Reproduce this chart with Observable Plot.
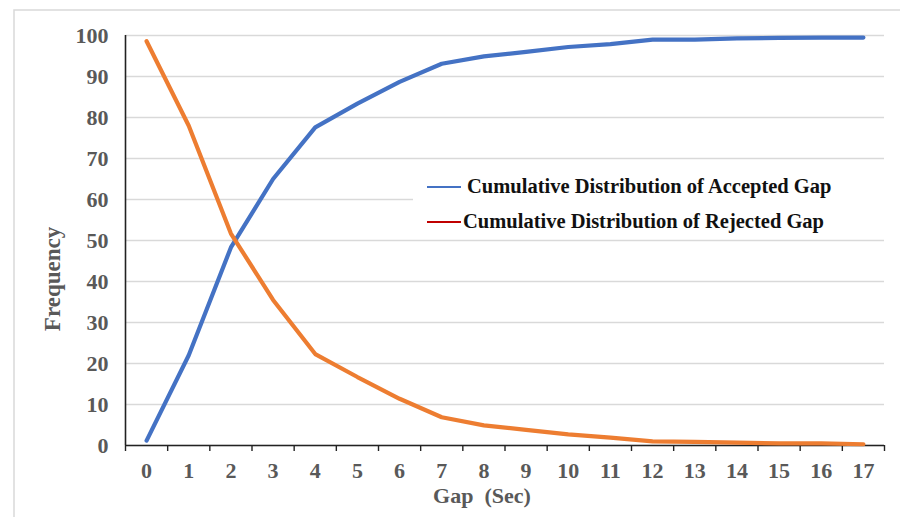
<!DOCTYPE html>
<html>
<head>
<meta charset="utf-8">
<script src="https://cdn.jsdelivr.net/npm/d3@7"></script>
<script src="https://cdn.jsdelivr.net/npm/@observablehq/plot@0.6"></script>
<style>
  html, body { margin: 0; padding: 0; background: #fff; }
  #chart svg { display: block; }
</style>
</head>
<body>
<div id="chart"></div>
<script>
// Gap sizes in seconds (x categories)
const gaps = [0, 1, 2, 3, 4, 5, 6, 7, 8, 9, 10, 11, 12, 13, 14, 15, 16, 17];
// Cumulative distribution (%) of accepted gaps
const accepted = [1.2, 22, 48.3, 65, 77.6, 83.4, 88.7, 93.1, 94.9, 96, 97.2, 97.9, 99, 99, 99.3, 99.4, 99.5, 99.5];
// Cumulative distribution (%) of rejected gaps
const rejected = [98.6, 78, 51.7, 35.5, 22.3, 16.7, 11.4, 6.9, 4.9, 3.8, 2.7, 1.9, 1.0, 0.9, 0.7, 0.5, 0.5, 0.3];
// Frequency axis ticks
const yTicks = [0, 10, 20, 30, 40, 50, 60, 70, 80, 90, 100];
// Series names shown in the legend
const seriesNames = ["Cumulative Distribution of Accepted Gap", "Cumulative Distribution of Rejected Gap"];

const acceptedRows = gaps.map((g, i) => ({gap: g, value: accepted[i]}));
const rejectedRows = gaps.map((g, i) => ({gap: g, value: rejected[i]}));
// category boundaries for the tick marks between categories
const bounds = [...gaps.map(g => g - 0.5), gaps[gaps.length - 1] + 0.5];

const labelFont = "'Liberation Serif', 'Times New Roman', serif";
const gray = "#595959";

const chart = Plot.plot({
  width: 900,
  height: 517,
  marginLeft: 125,
  marginRight: 16,
  marginTop: 35,
  marginBottom: 72,
  style: {fontFamily: labelFont, fontWeight: "bold", fontSize: "20px", color: gray, background: "#fff"},
  x: {domain: [bounds[0], bounds[bounds.length - 1]]},
  y: {domain: [0, 100]},
  marks: [
    Plot.gridY(yTicks, {stroke: "#d9d9d9", strokeOpacity: 1, strokeWidth: 1.3}),
    Plot.axisY(yTicks, {tickSize: 0, tickPadding: 17, label: null, fill: gray, fontSize: 22}),
    Plot.axisX(gaps, {tickSize: 0, tickPadding: 17, label: null, fill: gray, fontSize: 22}),
    Plot.axisX(bounds, {tickSize: 6, tickFormat: () => "", label: null, stroke: "#222", strokeWidth: 1.4}),
    Plot.ruleX([bounds[0]], {y1: 0, y2: 100, stroke: "#222", strokeWidth: 1.6}),
    Plot.ruleY([0], {stroke: "#222", strokeWidth: 1.6}),
    Plot.line(acceptedRows, {x: "gap", y: "value", stroke: "#4472C4", strokeWidth: 4.2, strokeLinejoin: "round", strokeLinecap: "round"}),
    Plot.line(rejectedRows, {x: "gap", y: "value", stroke: "#ED7D31", strokeWidth: 4.2, strokeLinejoin: "round", strokeLinecap: "round"})
  ]
});

const svg = d3.select(chart);

// light outer frame of the chart area
svg.insert("path", ":first-child")
  .attr("d", "M14,517V10H900")
  .attr("fill", "none")
  .attr("stroke", "#d9d9d9")
  .attr("stroke-width", 1.5);

// axis titles
svg.append("text")
  .attr("transform", "translate(60,279) rotate(-90)")
  .attr("text-anchor", "middle")
  .attr("font-family", labelFont)
  .attr("font-weight", "bold")
  .attr("font-size", 23)
  .attr("fill", gray)
  .text("Frequency");

svg.append("text")
  .attr("x", 482)
  .attr("y", 503)
  .attr("text-anchor", "middle")
  .attr("font-family", labelFont)
  .attr("font-weight", "bold")
  .attr("font-size", 22)
  .attr("fill", gray)
  .style("white-space", "pre")
  .text("Gap  (Sec)");

// legend box drawn over the grid
const legend = svg.append("g").attr("text-anchor", "start");
legend.append("rect")
  .attr("x", 413).attr("y", 166)
  .attr("width", 472).attr("height", 70)
  .attr("fill", "#fff");

const legendItems = [
  {name: seriesNames[0], color: "#4472C4", y: 187, tx: 467},
  {name: seriesNames[1], color: "#C00000", y: 222, tx: 463}
];
legendItems.forEach(d => {
  legend.append("line")
    .attr("x1", 427).attr("x2", 461)
    .attr("y1", d.y).attr("y2", d.y)
    .attr("stroke", d.color).attr("stroke-width", 2.2);
  legend.append("text")
    .attr("x", d.tx).attr("y", d.y + 6)
    .attr("text-anchor", "start")
    .attr("font-family", labelFont)
    .attr("font-weight", "bold")
    .attr("font-size", 20.5)
    .attr("fill", "#111")
    .text(d.name);
});

document.getElementById("chart").appendChild(chart);
</script>
</body>
</html>
